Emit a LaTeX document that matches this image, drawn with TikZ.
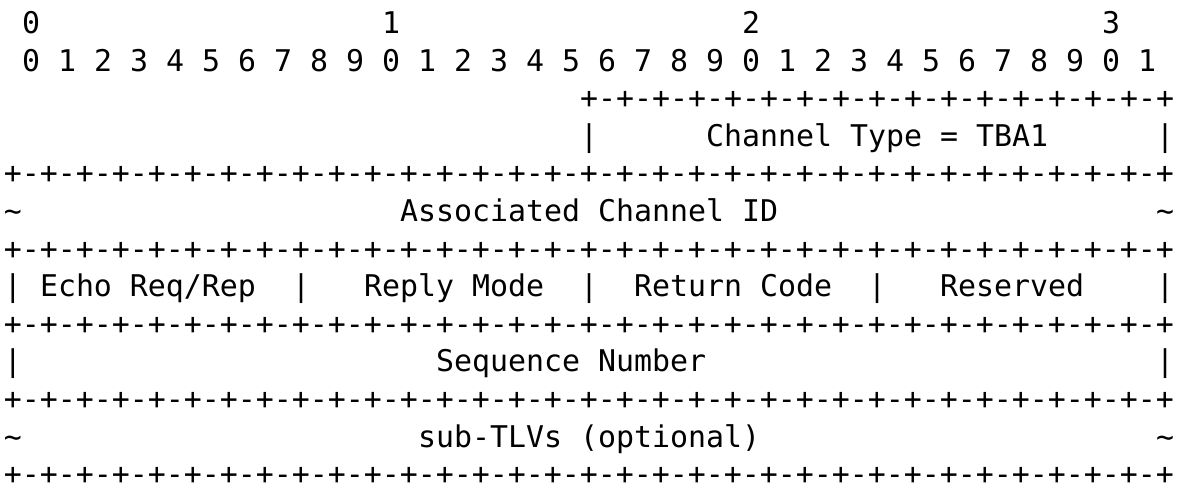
\documentclass[tikz,border=0pt]{standalone}
\usepackage{fontspec}
\newfontfamily\pktmono{DejaVu Sans Mono}

\tikzset{
  asc/.style={inner sep=0pt, outer sep=0pt, anchor=base west,
    font=\pktmono\fontsize{29.9pt}{37.6pt}\selectfont},
}
% a row of +-+-...+ with #1 cells
\newcommand{\cellrule}[1]{+\foreach\k in {1,...,#1}{-+}}
\newcommand{\tld}{\char"007E}

\begin{document}
\begin{tikzpicture}[x=18pt,y=37.6pt]
  \useasboundingbox (0,0) rectangle (1183pt,-485pt);
  \begin{scope}[shift={(4pt,-33.5pt)}]
    % word and bit numbers
    \foreach \w in {0,1,2,3}
      \node[asc] (w\w) at ({1+20*\w},0) {\w};
    \foreach \b in {0,...,31} {
      \pgfmathtruncatemacro\d{mod(\b,10)}
      \node[asc] (b\b) at ({1+2*\b},-1) {\d};
    }

    % channel type
    \node[asc] (top) at (32,-2) {\cellrule{16}};
    \node[asc] (ctl) at (32,-3) {|};
    \node[asc] (ctr) at (64,-3) {|};
    \node[asc] (ctype) at (39,-3) {Channel Type = TBA1};
    \node[asc] (r1) at (0,-4) {\cellrule{32}};

    % associated channel id
    \node[asc] (acl) at (0,-5) {\tld};
    \node[asc] (acr) at (64,-5) {\tld};
    \node[asc] (acid) at (22,-5) {Associated Channel ID};
    \node[asc] (r2) at (0,-6) {\cellrule{32}};

    % echo fields
    \foreach \c in {0,16,32,48,64}
      \node[asc] (f\c) at (\c,-7) {|};
    \node[asc] (echo) at (2,-7) {Echo Req/Rep};
    \node[asc] (mode) at (20,-7) {Reply Mode};
    \node[asc] (rcode) at (35,-7) {Return Code};
    \node[asc] (resv) at (52,-7) {Reserved};
    \node[asc] (r3) at (0,-8) {\cellrule{32}};

    % sequence number
    \node[asc] (sql) at (0,-9) {|};
    \node[asc] (sqr) at (64,-9) {|};
    \node[asc] (seq) at (24,-9) {Sequence Number};
    \node[asc] (r4) at (0,-10) {\cellrule{32}};

    % sub-TLVs
    \node[asc] (stl) at (0,-11) {\tld};
    \node[asc] (str) at (64,-11) {\tld};
    \node[asc] (subtlv) at (23,-11) {sub-TLVs (optional)};
    \node[asc] (r5) at (0,-12) {\cellrule{32}};
  \end{scope}
\end{tikzpicture}
\end{document}
